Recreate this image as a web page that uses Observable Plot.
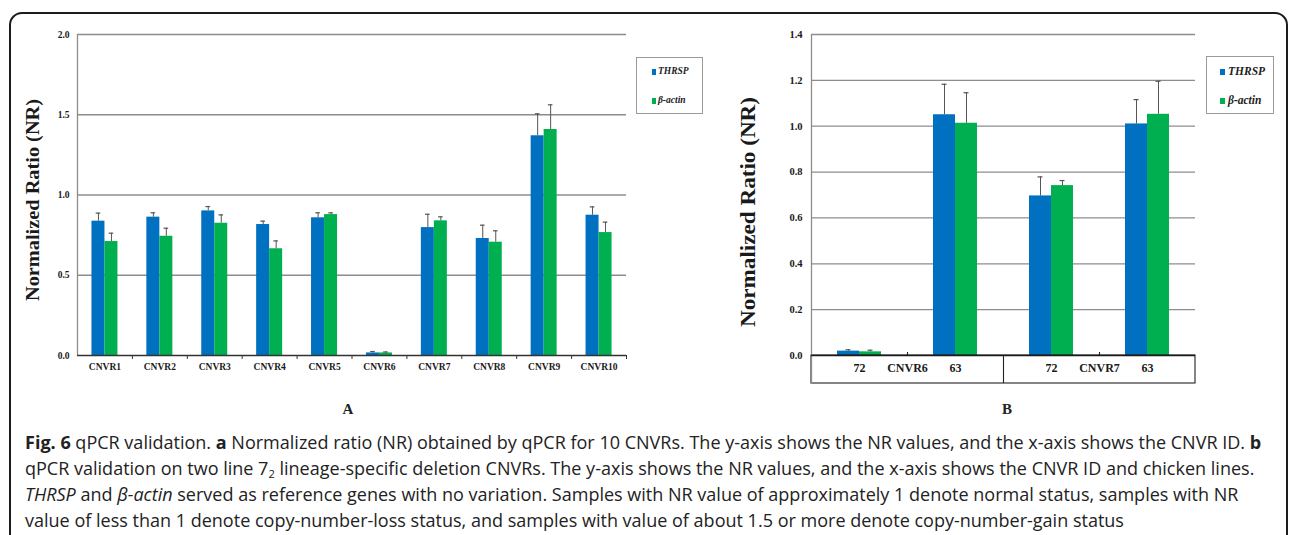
<!DOCTYPE html>
<html>
<head>
<meta charset="utf-8">
<script src="https://cdn.jsdelivr.net/npm/d3@7"></script>
<script src="https://cdn.jsdelivr.net/npm/@observablehq/plot@0.6"></script>
<style>
  html, body { margin: 0; padding: 0; background: #fff; }
  #root { position: relative; width: 1290px; height: 535px; overflow: hidden; background: #fff; }
  #border { position: absolute; left: 9px; top: 12px; width: 1279px; height: 600px; border: 2px solid #1c1c1c; border-radius: 13px; box-sizing: border-box; }
  .plotwrap { position: absolute; top: 0; }
  .plotwrap svg { overflow: visible; }
  .legend { position: absolute; border: 1.3px solid #9a9a9a; box-sizing: border-box; background: #fff;
            font-family: "Liberation Serif", "Times New Roman", serif; font-weight: bold; font-style: italic; color: #222; }
  .legend .sw { position: absolute; }
  .legend .lt { position: absolute; white-space: nowrap; line-height: 1; }
  .panel-letter { position: absolute; font-family: "Liberation Serif", "Times New Roman", serif; font-weight: bold; font-size: 15px; color: #222; transform: translate(-50%, -50%); }
  .cap { position: absolute; left: 25px; white-space: nowrap; font-family: "Open Sans", "Noto Sans", sans-serif; font-size: 16px; line-height: 26px; height: 26px; color: #222; }
  .cap sub { font-size: 0.62em; line-height: 0; vertical-align: -0.25em; }
</style>
</head>
<body>
<div id="root">
  <div id="border"></div>
  <div id="plotA" class="plotwrap" style="left:0px"></div>
  <div id="plotB" class="plotwrap" style="left:640px"></div>
  <div id="legendA" class="legend" style="left:636px;top:57px;width:67px;height:57px;"></div>
  <div id="legendB" class="legend" style="left:1206px;top:56px;width:68px;height:58px;"></div>
  <div class="panel-letter" style="left:348px;top:409px;">A</div>
  <div class="panel-letter" style="left:1007px;top:409px;">B</div>
  <div class="cap" style="top:429px;"><b>Fig. 6</b> qPCR validation. <b>a</b> Normalized ratio (NR) obtained by qPCR for 10 CNVRs. The y-axis shows the NR values, and the x-axis shows the CNVR ID. <b>b</b></div>
  <div class="cap" style="top:455px;">qPCR validation on two line 7<sub>2</sub> lineage-specific deletion CNVRs. The y-axis shows the NR values, and the x-axis shows the CNVR ID and chicken lines.</div>
  <div class="cap" style="top:481px;"><i>THRSP</i> and <i>β-actin</i> served as reference genes with no variation. Samples with NR value of approximately 1 denote normal status, samples with NR</div>
  <div class="cap" style="top:507px;">value of less than 1 denote copy-number-loss status, and samples with value of about 1.5 or more denote copy-number-gain status</div>
</div>
<script>
// ---------------- data ----------------
const seriesNames = ["THRSP", "β-actin"];
const seriesColors = ["#0070C0", "#00B050"];

// Panel A
const catsA = ["CNVR1", "CNVR2", "CNVR3", "CNVR4", "CNVR5", "CNVR6", "CNVR7", "CNVR8", "CNVR9", "CNVR10"];
const thrspA    = [0.837, 0.862, 0.901, 0.816, 0.858, 0.016, 0.797, 0.729, 1.369, 0.874];
const thrspErrA = [0.050, 0.027, 0.027, 0.021, 0.031, 0.009, 0.083, 0.083, 0.137, 0.052];
const actinA    = [0.710, 0.743, 0.824, 0.665, 0.878, 0.016, 0.839, 0.706, 1.408, 0.766];
const actinErrA = [0.052, 0.050, 0.052, 0.049, 0.011, 0.006, 0.025, 0.071, 0.154, 0.065];
const yTicksA = [0, 0.5, 1.0, 1.5, 2.0];

// Panel B
const linesB  = ["72", "63", "72", "63"];
const groupsB = ["CNVR6", "CNVR6", "CNVR7", "CNVR7"];
const thrspB    = [0.019, 1.050, 0.696, 1.010];
const thrspErrB = [0.006, 0.133, 0.083, 0.106];
const actinB    = [0.016, 1.013, 0.741, 1.052];
const actinErrB = [0.007, 0.133, 0.022, 0.144];
const yTicksB = [0, 0.2, 0.4, 0.6, 0.8, 1.0, 1.2, 1.4];

// ---------------- helpers ----------------
const serif = "'Liberation Serif', 'Times New Roman', serif";
function rowsFrom(n, a, ae, b, be) {
  const rows = [];
  for (let i = 0; i < n; i++) {
    rows.push({i, s: 0, series: seriesNames[0], v: a[i], e: ae[i]});
    rows.push({i, s: 1, series: seriesNames[1], v: b[i], e: be[i]});
  }
  return rows;
}

function addYTitle(svg, x, y, size, len) {
  d3.select(svg).append("text")
    .attr("transform", `translate(${x},${y}) rotate(-90)`)
    .attr("text-anchor", "middle")
    .attr("dominant-baseline", "middle")
    .attr("font-family", serif)
    .attr("font-weight", "bold")
    .attr("font-size", size)
    .attr("fill", "#1a1a1a")
    .attr("textLength", len)
    .attr("lengthAdjust", "spacingAndGlyphs")
    .text("Normalized Ratio (NR)");
}

// ---------------- Panel A ----------------
{
  const L = {width: 640, height: 380, mL: 77, mR: 14, mT: 34, mB: 25};
  const n = catsA.length;
  const stepPx = (L.width - L.mL - L.mR) / n;
  const bw = 13 / stepPx;       // bar width in category units
  const cap = 2.3 / stepPx;     // half cap width
  const rows = rowsFrom(n, thrspA, thrspErrA, actinA, actinErrA);
  const cx = d => d.i - bw / 2 + d.s * bw;
  const svg = Plot.plot({
    width: L.width, height: L.height,
    marginLeft: L.mL, marginRight: L.mR, marginTop: L.mT, marginBottom: L.mB,
    x: {type: "linear", domain: [-0.5, n - 0.5], axis: null},
    y: {domain: [0, 2], axis: null},
    color: {domain: seriesNames, range: seriesColors},
    style: {fontFamily: serif, fontWeight: "bold", background: "transparent", color: "#1a1a1a"},
    marks: [
      Plot.ruleY(yTicksA.filter(d => d > 0), {stroke: "#8c8c8c", strokeWidth: 1.3}),
      Plot.ruleX([-0.5], {stroke: "#8c8c8c", strokeWidth: 1.3}),
      Plot.rectY(rows, {x1: d => d.i - bw + d.s * bw, x2: d => d.i + d.s * bw, y1: () => 0, y2: "v", fill: "series"}),
      Plot.ruleX(rows, {x: cx, y1: "v", y2: d => d.v + d.e, stroke: "#555", strokeWidth: 1}),
      Plot.ruleY(rows, {y: d => d.v + d.e, x1: d => cx(d) - cap, x2: d => cx(d) + cap, stroke: "#555", strokeWidth: 1.2}),
      Plot.ruleY([0], {stroke: "#333", strokeWidth: 1.6}),
      Plot.axisX(d3.range(n).map(i => i + 0.5), {tickSize: 4, tickFormat: () => "", label: null, stroke: "#333"}),
      Plot.axisY(yTicksA, {tickSize: 0, tickPadding: 8, tickFormat: d3.format(".1f"), fontSize: 9.5, label: null}),
      Plot.text(catsA, {x: (d, i) => i, text: d => d, frameAnchor: "bottom", dy: 14, fontSize: 9.5})
    ]
  });
  addYTitle(svg, 35, 200, 19, 202);
  document.getElementById("plotA").appendChild(svg);
}

// ---------------- Panel B ----------------
{
  const L = {width: 650, height: 400, mL: 171, mR: 95, mT: 34, mB: 45};
  const n = linesB.length;
  const stepPx = (L.width - L.mL - L.mR) / n;
  const bw = 22 / stepPx;
  const cap = 2.5 / stepPx;
  const rows = rowsFrom(n, thrspB, thrspErrB, actinB, actinErrB);
  const cx = d => d.i - bw / 2 + d.s * bw;
  const plotH = L.height - L.mT - L.mB;
  const unitPerPx = 1.4 / plotH;
  const boxY = -28 * unitPerPx;   // depth of the category box below the axis
  const tickUp = 3 * unitPerPx;
  // group centres and dividers derived from the group array
  const groups = [];
  groupsB.forEach((g, i) => {
    let G = groups.find(x => x.g === g);
    if (!G) { G = {g, idx: []}; groups.push(G); }
    G.idx.push(i);
  });
  groups.forEach(G => { G.x = d3.mean(G.idx); });
  const dividers = groups.slice(1).map(G => G.idx[0] - 0.5);
  const svg = Plot.plot({
    width: L.width, height: L.height,
    marginLeft: L.mL, marginRight: L.mR, marginTop: L.mT, marginBottom: L.mB,
    x: {type: "linear", domain: [-0.5, n - 0.5], axis: null},
    y: {domain: [0, 1.4], axis: null},
    color: {domain: seriesNames, range: seriesColors},
    style: {fontFamily: serif, fontWeight: "bold", background: "transparent", color: "#1a1a1a"},
    marks: [
      Plot.ruleY(yTicksB.filter(d => d > 0), {stroke: "#8c8c8c", strokeWidth: 1.3}),
      Plot.rectY(rows, {x1: d => d.i - bw + d.s * bw, x2: d => d.i + d.s * bw, y1: () => 0, y2: "v", fill: "series"}),
      Plot.ruleX(rows, {x: cx, y1: "v", y2: d => d.v + d.e, stroke: "#555", strokeWidth: 1}),
      Plot.ruleY(rows, {y: d => d.v + d.e, x1: d => cx(d) - cap, x2: d => cx(d) + cap, stroke: "#555", strokeWidth: 1.2}),
      Plot.rect([0], {x1: () => -0.5, x2: () => n - 0.5, y1: () => boxY, y2: () => 0, fill: "none", stroke: "#222", strokeWidth: 1.1}),
      Plot.ruleX(dividers, {y1: boxY, y2: 0, stroke: "#222", strokeWidth: 1.1}),
      Plot.ruleX(groups, {x: "x", y1: 0, y2: tickUp, stroke: "#222", strokeWidth: 1.1}),
      Plot.ruleX([-0.5], {y1: boxY, y2: 1.4, stroke: "#8c8c8c", strokeWidth: 1.3}),
      Plot.ruleY([0], {stroke: "#1a1a1a", strokeWidth: 1.6}),
      Plot.axisY(yTicksB, {tickSize: 0, tickPadding: 9, tickFormat: d3.format(".1f"), fontSize: 10.5, label: null}),
      Plot.text(linesB, {x: (d, i) => i, text: d => d, frameAnchor: "bottom", dy: 16, fontSize: 12}),
      Plot.text(groups, {x: "x", text: "g", frameAnchor: "bottom", dy: 16, fontSize: 12})
    ]
  });
  addYTitle(svg, 110, 212, 21, 230);
  document.getElementById("plotB").appendChild(svg);
}

// ---------------- Legends ----------------
function buildLegend(id, sw, fs, textLeft, swLeft, rowsY) {
  const el = document.getElementById(id);
  seriesNames.forEach((name, k) => {
    const s = document.createElement("div");
    s.className = "sw";
    s.style.cssText = `left:${swLeft}px;top:${rowsY[k] - sw[1] / 2}px;width:${sw[0]}px;height:${sw[1]}px;background:${seriesColors[k]};`;
    el.appendChild(s);
    const t = document.createElement("div");
    t.className = "lt";
    t.style.cssText = `left:${textLeft}px;top:${rowsY[k] - fs * 0.55}px;font-size:${fs}px;`;
    t.textContent = name;
    el.appendChild(t);
  });
}
buildLegend("legendA", [4, 6], 9.5, 21, 15, [14, 43]);
buildLegend("legendB", [5, 6], 11.5, 21, 13, [15, 44]);

// ---------------- caption fit ----------------
function fitCaption() {
  const lines = document.querySelectorAll(".cap");
  const first = lines[0];
  first.style.fontSize = "16px";
  const w = first.getBoundingClientRect().width;
  const fs = 16 * 1237 / w;
  lines.forEach(l => l.style.fontSize = fs + "px");
}
fitCaption();
if (document.fonts && document.fonts.ready) document.fonts.ready.then(fitCaption);
</script>
</body>
</html>
